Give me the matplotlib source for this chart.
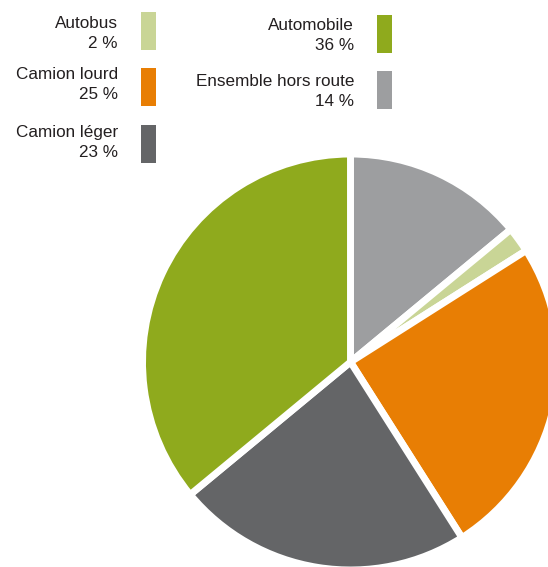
import matplotlib
matplotlib.use("Agg")
import matplotlib.pyplot as plt
from matplotlib.patches import Rectangle

# Share of each vehicle category (%)
categories = ["Ensemble hors route", "Autobus", "Camion lourd", "Camion léger", "Automobile"]
values = [14, 2, 25, 23, 36]
colors = ["#9d9ea0", "#c9d596", "#e87e04", "#646567", "#8faa1d"]

# Legend layout: (category, column, top of swatch in px from top)
legend_left = ["Autobus", "Camion lourd", "Camion léger"]
legend_right = ["Automobile", "Ensemble hors route"]

W, H = 548, 567
DPI = 100
plt.rcParams["font.family"] = ["Liberation Sans", "DejaVu Sans"]

fig = plt.figure(figsize=(W / DPI, H / DPI), dpi=DPI)
ax = fig.add_axes([0, 0, 1, 1])


def yy(y_img):
    return H - y_img


cx, cy, R = 350.5, 362, 208
ax.pie(values, colors=colors, startangle=90, counterclock=False,
       center=(cx, yy(cy)), radius=R,
       wedgeprops=dict(edgecolor="white", linewidth=5.0, joinstyle="miter"))

ax.set_xlim(0, W)
ax.set_ylim(0, H)
ax.set_aspect("equal")
ax.axis("off")

lookup = dict(zip(categories, zip(values, colors)))


def legend_item(name, text_right, sw_left, sw_top, sw_bottom, base1):
    val, col = lookup[name]
    ax.add_patch(Rectangle((sw_left, yy(sw_bottom)), 15, sw_bottom - sw_top,
                           facecolor=col, edgecolor="none"))
    ax.text(text_right, yy(base1), name, ha="right", va="baseline",
            fontsize=12.3, color="#231f20")
    ax.text(text_right, yy(base1 + 20), f"{val} %", ha="right", va="baseline",
            fontsize=12.3, color="#231f20")


legend_item("Autobus", 118, 141, 12, 49.5, 28)
legend_item("Camion lourd", 118, 141, 68, 106, 79)
legend_item("Camion léger", 118, 141, 125, 162.5, 137)
legend_item("Automobile", 354, 377, 15, 53, 30)
legend_item("Ensemble hors route", 354, 377, 70.5, 108.5, 86)

fig.savefig("out.png", dpi=DPI, facecolor="white")
